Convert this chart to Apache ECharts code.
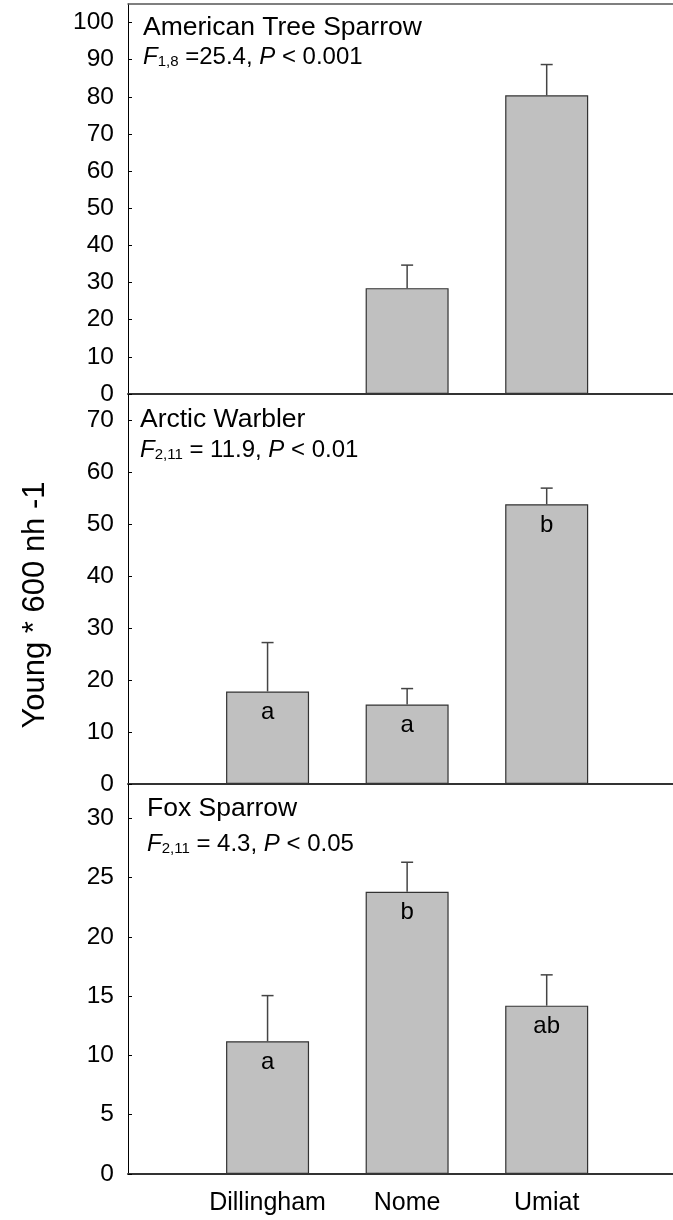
<!DOCTYPE html>
<html>
<head>
<meta charset="utf-8">
<script src="https://cdn.jsdelivr.net/npm/echarts@6/dist/echarts.min.js"></script>
<style>
html,body{margin:0;padding:0;background:#fff;}
#chart{width:673px;height:1220px;}
</style>
</head>
<body>
<div id="chart"></div>
<script>
const categories = ['Dillingham', 'Nome', 'Umiat'];
const categoryPositions = [1, 2, 3];

const treeSparrowMean = [null, 28.5, 80.4];
const treeSparrowSE = [null, 6.2, 8.3];
const treeSparrowLetters = ['', '', ''];
const treeSparrowTicks = [0, 10, 20, 30, 40, 50, 60, 70, 80, 90, 100];

const warblerMean = [17.8, 15.3, 53.8];
const warblerSE = [9.4, 3.05, 3.1];
const warblerLetters = ['a', 'a', 'b'];
const warblerTicks = [0, 10, 20, 30, 40, 50, 60, 70];

const foxMean = [11.2, 23.8, 14.2];
const foxSE = [3.85, 2.5, 2.6];
const foxLetters = ['a', 'b', 'ab'];
const foxTicks = [0, 5, 10, 15, 20, 25, 30];

const FONT = 'Liberation Sans, Arial, Helvetica, sans-serif';
const panels = [
  {mean: treeSparrowMean, se: treeSparrowSE, letters: treeSparrowLetters, ticks: treeSparrowTicks, max: 105, top: 4},
  {mean: warblerMean, se: warblerSE, letters: warblerLetters, ticks: warblerTicks, max: 75, top: 394},
  {mean: foxMean, se: foxSE, letters: foxLetters, ticks: foxTicks, max: 32.9, top: 784}
];
const XMAX = 3.905;

const grids = [], xAxes = [], yAxes = [], series = [];
panels.forEach((p, i) => {
  grids.push({left: 128, right: 0, top: p.top, height: 390, containLabel: false});
  xAxes.push({
    type: 'value', gridIndex: i, min: 0, max: XMAX, position: 'bottom',
    axisLine: {show: true, onZero: false, lineStyle: {color: '#333', width: 2}},
    axisTick: {show: false}, splitLine: {show: false},
    axisLabel: i === 2 ? {
      show: true, customValues: categoryPositions, fontSize: 25, fontFamily: FONT, color: '#000', margin: 17,
      formatter: v => categories[Math.round(v) - 1]
    } : {show: false}
  });
  yAxes.push({
    type: 'value', gridIndex: i, min: 0, max: p.max,
    axisLine: {show: true, onZero: false, lineStyle: {color: '#000', width: 1}},
    axisTick: {show: true, inside: true, length: 4, customValues: p.ticks, lineStyle: {color: '#000', width: 1}},
    axisLabel: {show: true, customValues: p.ticks, fontSize: 24.5, fontFamily: FONT, color: '#000', margin: 14},
    splitLine: {show: false}
  });
  const barData = [], errData = [];
  p.mean.forEach((m, k) => {
    if (m !== null) {
      barData.push({value: [categoryPositions[k], m], letter: p.letters[k]});
      errData.push([categoryPositions[k], m, p.se[k]]);
    }
  });
  series.push({
    type: 'bar', xAxisIndex: i, yAxisIndex: i, barWidth: 83,
    data: barData,
    itemStyle: {color: '#c0c0c0', borderColor: '#333', borderWidth: 1.2},
    label: {
      show: true, position: 'insideTop', distance: 9, fontSize: 24, fontFamily: FONT, color: '#000',
      formatter: params => params.data.letter
    },
    silent: true, animation: false, z: 2
  });
  series.push({
    type: 'custom', xAxisIndex: i, yAxisIndex: i, data: errData, z: 3, animation: false, silent: true,
    renderItem: (params, api) => {
      const x = api.value(0), y = api.value(1), e = api.value(2);
      const b = api.coord([x, y]);
      const t = api.coord([x, y + e]);
      const st = {stroke: '#444', lineWidth: 1.5};
      return {type: 'group', children: [
        {type: 'line', shape: {x1: b[0], y1: b[1], x2: t[0], y2: t[1]}, style: st},
        {type: 'line', shape: {x1: t[0] - 6, y1: t[1], x2: t[0] + 6, y2: t[1]}, style: st}
      ]};
    }
  });
});
// top border of first panel
xAxes.push({
  type: 'value', gridIndex: 0, min: 0, max: XMAX, position: 'top',
  axisLine: {show: true, onZero: false, lineStyle: {color: '#555', width: 1.5}},
  axisTick: {show: false}, axisLabel: {show: false}, splitLine: {show: false}
});

const statRich = {
  i: {fontStyle: 'italic', fontSize: 24, fontFamily: FONT, color: '#000'},
  s: {fontSize: 15, fontFamily: FONT, color: '#000', verticalAlign: 'bottom'},
  n: {fontSize: 24, fontFamily: FONT, color: '#000'}
};
function titleText(x, y, t) {
  return {type: 'text', x: x, y: y, silent: true,
    style: {text: t, fontSize: 26.5, fontFamily: FONT, fill: '#000', align: 'left', verticalAlign: 'middle'}};
}
function statText(x, y, sub, rest, p) {
  return {type: 'text', x: x, y: y, silent: true,
    style: {text: '{i|F}{s|' + sub + '}{n|' + rest + '}{i|P}{n|' + p + '}', rich: statRich,
      align: 'left', verticalAlign: 'middle'}};
}

const option = {
  animation: false,
  grid: grids, xAxis: xAxes, yAxis: yAxes, series: series,
  graphic: [
    titleText(143, 27.5, 'American Tree Sparrow'),
    statText(143, 57, '1,8', ' =25.4, ', ' < 0.001'),
    titleText(140, 419.5, 'Arctic Warbler'),
    statText(140, 450, '2,11', ' = 11.9, ', ' < 0.01'),
    titleText(147, 809, 'Fox Sparrow'),
    statText(147, 844.5, '2,11', ' = 4.3, ', ' < 0.05'),
    {type: 'text', x: 35, y: 605, rotation: Math.PI / 2, silent: true,
      style: {text: 'Young * 600 nh -1', fontSize: 31, fontFamily: FONT, fill: '#000', align: 'center', verticalAlign: 'middle'}}
  ]
};
const chart = echarts.init(document.getElementById('chart'), null, {renderer: 'canvas'});
chart.setOption(option);
</script>
</body>
</html>
